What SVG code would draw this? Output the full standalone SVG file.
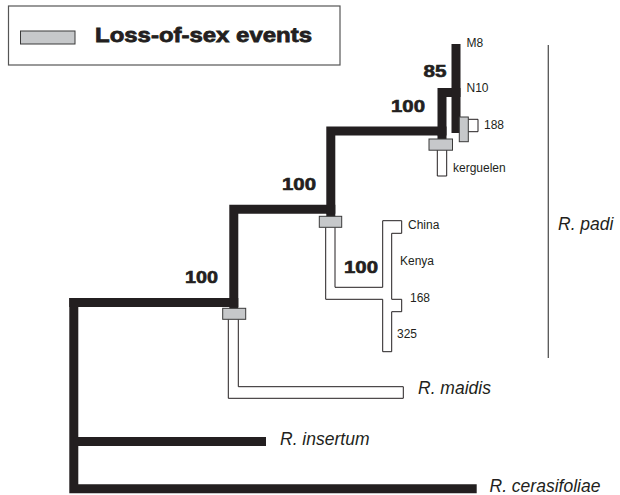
<svg xmlns="http://www.w3.org/2000/svg" width="620" height="495" viewBox="0 0 620 495">
<style>
.blk{fill:none;stroke:#231f20;stroke-width:9;stroke-linecap:square;stroke-linejoin:miter}
.wht{fill:#fff;stroke:#231f20;stroke-width:1}
.evt{fill:#c6c8ca;stroke:#3a3a3a;stroke-width:1}
.sup{font-family:"Liberation Sans",Arial,sans-serif;font-weight:bold;font-size:17px;fill:#231f20;stroke:#231f20;stroke-width:0.6}
.sm{font-family:"Liberation Sans",Arial,sans-serif;font-size:12px;fill:#231f20}
.sp{font-family:"Liberation Sans",Arial,sans-serif;font-style:italic;font-size:17.5px;fill:#231f20}
</style>
<rect width="620" height="495" fill="#fff"/>
<g id="legend">
<rect x="8.5" y="6" width="331.5" height="59" fill="#fff" stroke="#555" stroke-width="1.2"/>
<rect x="20.5" y="31" width="54.5" height="13" class="evt"/>
<text x="95" y="41.5" font-family="'Liberation Sans',Arial,sans-serif" font-weight="bold" font-size="21" fill="#231f20" stroke="#231f20" stroke-width="0.8" textLength="217" lengthAdjust="spacingAndGlyphs">Loss-of-sex events</text>
</g>
<g id="connectors">
<path class="blk" d="M73.8,302.5 V488.8 H472.2"/>
<path class="blk" d="M73.8,302.5 H233.8 V308"/>
<path class="blk" d="M78,441.5 H261.5"/>
<path class="blk" d="M233.8,302.5 V209.2 H330.8 V216"/>
<path class="blk" d="M330.8,209.2 V131 H442 V139"/>
<path class="blk" d="M442,131 V92.5 H456"/>
<path class="blk" d="M456,48.5 V128.5"/>
<path class="wht" d="M228.3,319.3 V398.3 H403.3 V386.7 H238.3 V319.3"/>
<path class="wht" d="M325.7,227.3 V299.3 H382.7 V351.7 H391.7 V311.7 H401.7 V299.3 H391.7 V233.3 H401.7 V220.7 H382.7 V287.3 H335 V227.3"/>
<path class="wht" d="M437.3,150 V176 H446.7 V150"/>
<path class="wht" d="M468,119.3 H478 V131.7 H468"/>
<line x1="548.3" y1="45" x2="548.3" y2="358" stroke="#555" stroke-width="1.3"/>
</g>
<g id="events">
<rect id="event-1" x="222.7" y="308.3" width="23" height="11" class="evt"/>
<rect id="event-2" x="319.3" y="216.3" width="22.4" height="11" class="evt"/>
<rect id="event-3" x="429" y="139" width="23.5" height="11.2" class="evt"/>
<rect id="event-4" x="459.3" y="117" width="9" height="24.7" class="evt"/>
</g>
<g id="support">
<text class="sup" x="185" y="283" textLength="33" lengthAdjust="spacingAndGlyphs">100</text>
<text class="sup" x="282" y="190" textLength="34" lengthAdjust="spacingAndGlyphs">100</text>
<text class="sup" x="391" y="111.5" textLength="34" lengthAdjust="spacingAndGlyphs">100</text>
<text class="sup" x="423.5" y="77" textLength="23" lengthAdjust="spacingAndGlyphs">85</text>
<text class="sup" x="344" y="273" textLength="34" lengthAdjust="spacingAndGlyphs">100</text>
</g>
<g id="taxa">
<text id="M8" class="sm" x="466.5" y="47">M8</text>
<text id="N10" class="sm" x="466.5" y="92">N10</text>
<text id="t188" class="sm" x="484" y="129">188</text>
<text id="kerguelen" class="sm" x="453" y="172">kerguelen</text>
<text id="China" class="sm" x="408" y="228.5">China</text>
<text id="Kenya" class="sm" x="400" y="265">Kenya</text>
<text id="t168" class="sm" x="410" y="302">168</text>
<text id="t325" class="sm" x="397" y="338">325</text>
<text id="maidis" class="sp" x="418" y="394">R. maidis</text>
<text id="insertum" class="sp" x="280" y="445">R. insertum</text>
<text id="cerasifoliae" class="sp" x="489.5" y="491.5">R. cerasifoliae</text>
<text id="padi" class="sp" x="558" y="229.5">R. padi</text>
</g>
</svg>
